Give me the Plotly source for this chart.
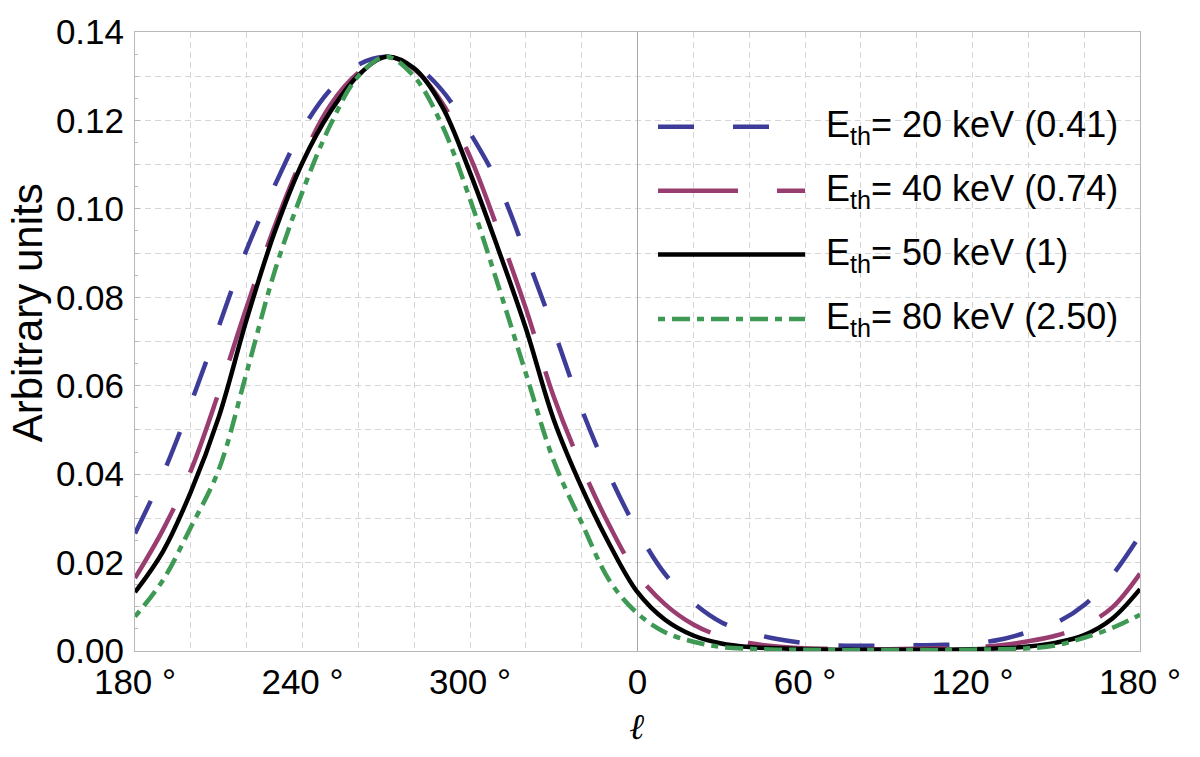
import plotly.graph_objects as go

# Galactic longitude (display coordinate: 0 at l=0, -180..180 -> l = 180°..360°/0..180°)
longitude = [-180, -170, -160, -150, -140, -130, -120, -110, -100, -90,
             -80, -70, -60, -50, -40, -30, -20, -10, 0,
             10, 20, 30, 40, 50, 60, 70, 80, 90,
             100, 110, 120, 130, 140, 150, 160, 170, 180]

e20 = [0.0266, 0.0400, 0.0560, 0.0734, 0.0908, 0.1052, 0.1180, 0.1270, 0.1326, 0.1344,
       0.1325, 0.1268, 0.1172, 0.1058, 0.0897, 0.0726, 0.0547, 0.0397, 0.0272,
       0.0173, 0.0109, 0.0065, 0.0042, 0.0027, 0.0018, 0.0013, 0.0012, 0.0012,
       0.0013, 0.0014, 0.0017, 0.0026, 0.0043, 0.0064, 0.0104, 0.0171, 0.0262]

e40 = [0.0165, 0.0274, 0.0408, 0.0585, 0.0778, 0.0960, 0.1115, 0.1235, 0.1308, 0.1344,
       0.1316, 0.1240, 0.1118, 0.0953, 0.0775, 0.0575, 0.0417, 0.0283, 0.0173,
       0.0105, 0.0060, 0.0033, 0.0018, 0.0010, 0.0006, 0.0005, 0.0004, 0.0004,
       0.0005, 0.0006, 0.0008, 0.0013, 0.0022, 0.0035, 0.0058, 0.0098, 0.0175]

e50 = [0.0133, 0.0225, 0.0360, 0.0529, 0.0750, 0.0947, 0.1105, 0.1220, 0.1302, 0.1344,
       0.1318, 0.1232, 0.1082, 0.0911, 0.0730, 0.0523, 0.0370, 0.0241, 0.0133,
       0.0070, 0.0035, 0.0017, 0.0009, 0.0006, 0.0004, 0.0003, 0.0003, 0.0003,
       0.0003, 0.0003, 0.0004, 0.0006, 0.0010, 0.0019, 0.0036, 0.0073, 0.0140]

e80 = [0.0078, 0.0160, 0.0280, 0.0410, 0.0630, 0.0858, 0.1039, 0.1190, 0.1300, 0.1344,
       0.1299, 0.1189, 0.1022, 0.0829, 0.0628, 0.0430, 0.0290, 0.0159, 0.0085,
       0.0042, 0.0021, 0.0009, 0.0005, 0.0003, 0.0003, 0.0002, 0.0002, 0.0002,
       0.0002, 0.0002, 0.0003, 0.0004, 0.0006, 0.0013, 0.0030, 0.0052, 0.0082]

x_tickvals = [-180, -120, -60, 0, 60, 120, 180]
x_ticktext = ["180 °", "240 °", "300 °", "0", "60 °", "120 °", "180 °"]
y_tickvals = [0.00, 0.02, 0.04, 0.06, 0.08, 0.10, 0.12, 0.14]
y_ticktext = ["0.00", "0.02", "0.04", "0.06", "0.08", "0.10", "0.12", "0.14"]

labels = ["20 keV", "40 keV", "50 keV", "80 keV"]
ratios = ["0.41", "0.74", "1", "2.50"]
series = [e20, e40, e50, e80]
colors = ["#3d3d99", "#993d70", "#000000", "#3d9954"]
dashes = ["36px,39px", "80px,39px", "solid", "7px,7px,18px,7px"]

FONT = "Liberation Sans, Arial, sans-serif"
GRID = "#d6d6d6"
FRAME = "#b8b8b8"
LEG_SIZE = 36

fig = go.Figure()
for y, c, d, lab in zip(series, colors, dashes, labels):
    fig.add_trace(go.Scatter(
        x=longitude, y=y, mode="lines", name=lab,
        line=dict(color=c, dash=d, width=4.5, shape="spline", smoothing=1.0),
        showlegend=False, hoverinfo="skip"))

fig.update_layout(
    width=1200, height=757,
    margin=dict(l=135, r=60, t=30, b=106),
    plot_bgcolor="white", paper_bgcolor="white",
    font=dict(family=FONT, size=35, color="black"),
    showlegend=False,
    xaxis=dict(
        range=[-180, 180], tickmode="array", tickvals=x_tickvals, ticktext=x_ticktext,
        showgrid=True, gridcolor=GRID, griddash="6px,4px", gridwidth=1,
        minor=dict(tickmode="linear", tick0=-180, dtick=20, showgrid=True,
                   gridcolor=GRID, griddash="6px,4px", gridwidth=1, ticks=""),
        zeroline=True, zerolinecolor="#a8a8a8", zerolinewidth=1,
        showline=True, linecolor=FRAME, linewidth=1, mirror=True,
        ticks="", ticklen=0, tickfont=dict(size=35, family=FONT, color="black"),
        ticklabelstandoff=0,
    ),
    yaxis=dict(
        range=[0, 0.14], tickmode="array", tickvals=y_tickvals, ticktext=y_ticktext,
        showgrid=False, zeroline=False,
        showline=True, linecolor=FRAME, linewidth=1, mirror=True,
        ticks="inside", ticklen=5, tickcolor=FRAME,
        minor=dict(tickmode="linear", tick0=0, dtick=0.005, ticks="inside",
                   ticklen=3, tickcolor=FRAME, showgrid=False),
        tickfont=dict(size=35, family=FONT, color="black"),
        ticklabelstandoff=3,
    ),
    yaxis2=dict(
        overlaying="y", range=[0, 0.14], tickmode="linear", tick0=0, dtick=0.01,
        showgrid=True, gridcolor=GRID, griddash="6px,4px", gridwidth=1,
        showticklabels=False, zeroline=False, showline=False, ticks="", side="left",
    ),
)

# dummy trace to activate the dashed 0.01 grid of yaxis2
fig.add_trace(go.Scatter(x=[None], y=[None], yaxis="y2", showlegend=False, hoverinfo="skip"))

# axis titles
fig.add_annotation(text="Arbitrary units", xref="paper", yref="paper",
                   x=-0.1075, y=0.547, textangle=-90, showarrow=False,
                   xanchor="center", yanchor="middle",
                   font=dict(size=42, family=FONT, color="black"))
fig.add_annotation(text="<i>ℓ</i>", xref="paper", yref="paper",
                   x=0.4995, y=-0.122, showarrow=False,
                   xanchor="center", yanchor="middle",
                   font=dict(size=36, family="DejaVu Serif, serif", color="black"))

# legend (drawn in paper coordinates)
row_y = [0.847, 0.7435, 0.6404, 0.5362]
x0, x1 = 0.5204, 0.6667
for yy, c, d, lab, r in zip(row_y, colors, dashes, labels, ratios):
    fig.add_shape(type="line", xref="paper", yref="paper", x0=x0, x1=x1, y0=yy, y1=yy,
                  line=dict(color=c, width=4.5, dash=d))
    txt = "E<sub>th</sub>= " + lab + " (" + r + ")"
    fig.add_annotation(text=txt, xref="paper", yref="paper", x=0.686, y=yy,
                       xanchor="left", yanchor="middle", showarrow=False,
                       font=dict(size=LEG_SIZE, family=FONT, color="black"))

fig.write_html("out.html")
